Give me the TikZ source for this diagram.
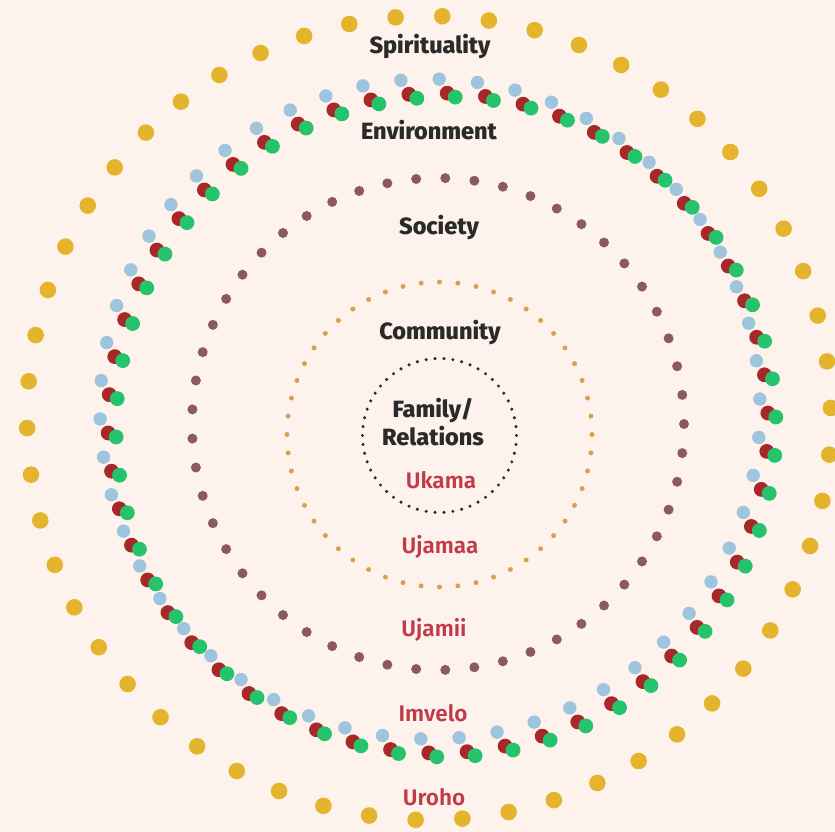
\documentclass[tikz,border=0pt]{standalone}
\usepackage{fontspec}
\setmainfont{Fira Sans}[BoldFont={Fira Sans ExtraBold}]
\newfontfamily\firamed{Fira Sans SemiBold}
\usepackage{xcolor}

\definecolor{fond}{HTML}{FDF3EC}
\definecolor{jaune}{HTML}{E4B52C}
\definecolor{bleu}{HTML}{9EC4DE}
\definecolor{grenat}{HTML}{A8282A}
\definecolor{vert}{HTML}{25C46C}
\definecolor{brun}{HTML}{8C5A5C}
\definecolor{ocre}{HTML}{D9A24A}
\definecolor{encre}{HTML}{2A2A2A}
\definecolor{rouge}{HTML}{C23A4A}

\begin{document}
\begin{tikzpicture}[x=1pt, y=-1pt,
  titre/.style={font=\fontsize{23.5}{28}\selectfont\bfseries, text=encre, align=center},
  mot/.style={font=\fontsize{22.5}{28}\selectfont\firamed, text=rouge}
]
  \fill[fond] (0,0) rectangle (835,832);
  \useasboundingbox (0,0) rectangle (835,832);

  % Spirituality ring
  \begin{scope}[shift={(429,418)}]
    \foreach \k in {0,...,53}
      \fill[jaune] (-88.1+\k*6.6667:402) circle (8.3pt);
  \end{scope}

  % Environment ring (three shifted rows)
  \begin{scope}[shift={(430,409)}]
    \foreach \k in {0,...,53}{
      \fill[bleu] (-88.4+\k*6.6667:330) circle (6.7pt);
      \fill[grenat, shift={(8,14)}] (-88.4+\k*6.6667:330) circle (7.4pt);
      \fill[vert, shift={(16,18)}] (-88.4+\k*6.6667:330) circle (7.4pt);
    }
  \end{scope}

  % Society ring
  \begin{scope}[shift={(438,424)}]
    \foreach \k in {0,...,52}
      \fill[brun] (\k*6.7925:246) circle (5pt);
  \end{scope}

  % Community ring
  \begin{scope}[shift={(439.5,434.5)}]
    \foreach \k in {0,...,51}
      \fill[ocre] (-90+\k*6.923:152.5) circle (2.5pt);
  \end{scope}

  % Family ring
  \begin{scope}[shift={(439.5,435.5)}]
    \foreach \k in {0,...,53}
      \fill[encre] (\k*6.6667:77) circle (1.7pt);
  \end{scope}

  \node[titre] (spi) at (430,47) {Spirituality};
  \node[titre] (env) at (429,130) {Environment};
  \node[titre] (soc) at (439,228) {Society};
  \node[titre] (com) at (440,333) {Community};
  \node[titre] (fam) at (433,422) {Family/\\Relations};
  \node[mot] (uka) at (441,480) {Ukama};
  \node[mot] (ujm) at (440,547) {Ujamaa};
  \node[mot] (uji) at (434,630) {Ujamii};
  \node[mot] (imv) at (433,713) {Imvelo};
  \node[mot] (uro) at (434,797) {Uroho};
\end{tikzpicture}
\end{document}
